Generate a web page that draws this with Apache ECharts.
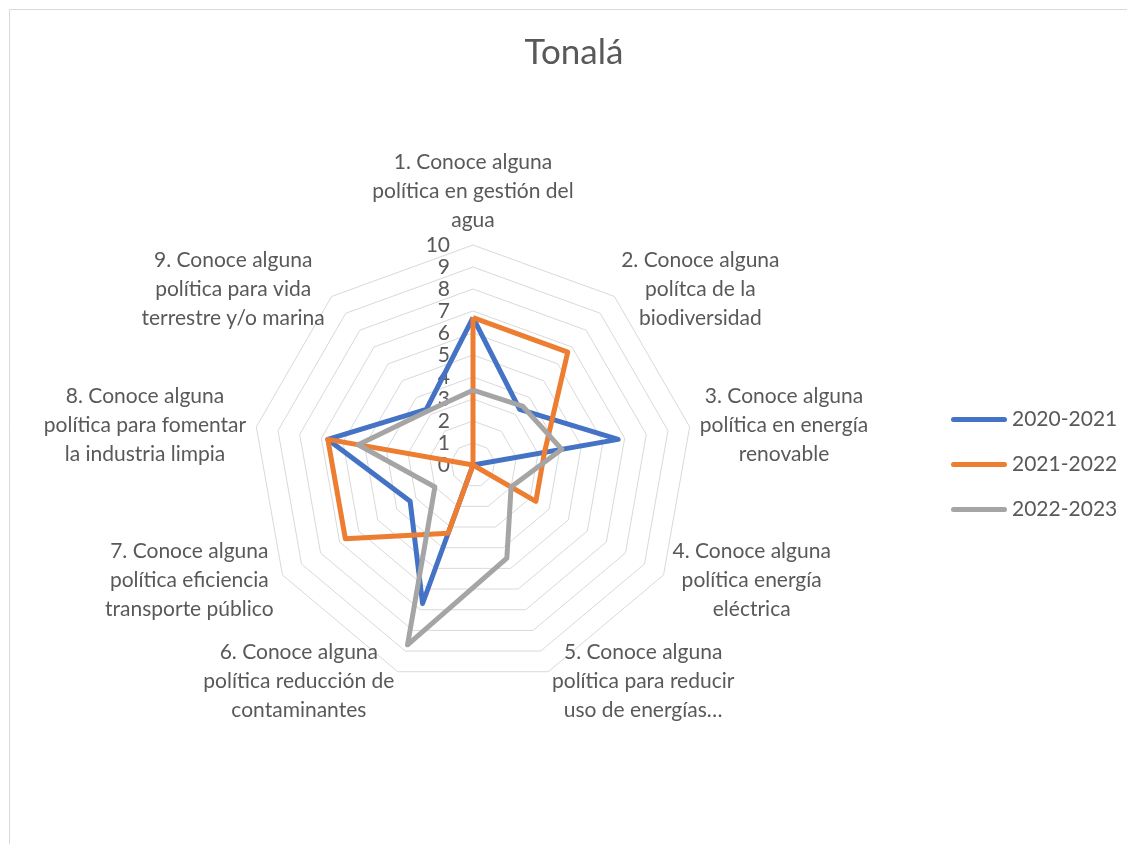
<!DOCTYPE html>
<html>
<head>
<meta charset="utf-8">
<title>Tonalá</title>
<script src="https://cdn.jsdelivr.net/npm/echarts@6/dist/echarts.min.js"></script>
<style>
  html, body { margin: 0; padding: 0; background: #fff; }
  #chart { width: 1127px; height: 844px; }
</style>
</head>
<body>
<div id="chart"></div>
<script>
// nombres de los ejes (en el orden de Excel, sentido horario)
var axis_names = [
	'1. Conoce alguna\npolítica en gestión del\nagua',
	'2. Conoce alguna\npolítca de la\nbiodiversidad',
	'3. Conoce alguna\npolítica en energía\nrenovable',
	'4. Conoce alguna\npolítica energía\neléctrica',
	'5. Conoce alguna\npolítica para reducir\nuso de energías…',
	'6. Conoce alguna\npolítica reducción de\ncontaminantes',
	'7. Conoce alguna\npolítica eficiencia\ntransporte público',
	'8. Conoce alguna\npolítica para fomentar\nla industria limpia',
	'9. Conoce alguna\npolítica para vida\nterrestre y/o marina'
];
var series_names = ['2020-2021', '2021-2022', '2022-2023'];
var values_2020 = [6.7, 3.3, 6.7, 0, 0, 6.7, 3.3, 6.7, 3.3];
var values_2021 = [6.7, 6.7, 3.3, 3.3, 0, 3.3, 6.7, 6.7, 0];
var values_2022 = [3.4, 3.5, 4.1, 2.0, 4.5, 8.7, 2.0, 5.3, 3.2];
var axis_max = 10;

var colors = ['#4472C4', '#ED7D31', '#A5A5A5'];
var font = 'Lato, "Open Sans", sans-serif';
var text_color = '#595959';
var label_size = 21;

// echarts pone los indicadores en sentido antihorario, se invierte el orden
var order = [0];
for (var i = axis_names.length - 1; i > 0; i--) order.push(i);
function reorder(arr) {
	return order.map(function (k) { return arr[k]; });
}

// medir cada etiqueta para centrar sus lineas
var ctx = document.createElement('canvas').getContext('2d');
ctx.font = label_size + 'px ' + font;
var rich = {};
axis_names.forEach(function (name, idx) {
	var w = 0;
	name.split('\n').forEach(function (line) {
		w = Math.max(w, ctx.measureText(line).width);
	});
	rich['n' + idx] = {
		width: Math.ceil(w),
		align: 'center',
		fontSize: label_size,
		lineHeight: 29,
		fontFamily: font,
		color: text_color
	};
});

var indicator = reorder(axis_names).map(function (name, k) {
	var ind = { name: name, min: 0, max: axis_max };
	if (k === 0) {
		ind.axisLabel = {
			show: true,
			fontSize: label_size,
			color: text_color,
			fontFamily: font,
			margin: 23
		};
	}
	return ind;
});

var all_values = [values_2020, values_2021, values_2022];
var radar_data = series_names.map(function (name, i) {
	return {
		name: name,
		value: reorder(all_values[i]),
		lineStyle: { color: colors[i], width: 5 },
		itemStyle: { color: colors[i] }
	};
});

var myChart = echarts.init(document.getElementById('chart'));
myChart.setOption({
	backgroundColor: '#fff',
	animation: false,
	title: {
		text: 'Tonalá',
		left: 569,
		top: 30,
		textAlign: 'center',
		textStyle: { fontSize: 35, fontWeight: 'normal', color: text_color, fontFamily: font }
	},
	legend: {
		orient: 'vertical',
		left: 946,
		top: 404,
		itemWidth: 56,
		itemHeight: 5,
		itemGap: 24,
		icon: 'path://M2.5,0 L53.5,0 A2.5,2.5 0 0 1 53.5,5 L2.5,5 A2.5,2.5 0 0 1 2.5,0 Z',
		textStyle: { fontSize: label_size, color: text_color, fontFamily: font },
		data: series_names
	},
	radar: {
		center: [473, 465],
		radius: 220,
		shape: 'polygon',
		splitNumber: 10,
		nameGap: 10,
		indicator: indicator,
		axisName: {
			fontSize: label_size,
			color: text_color,
			fontFamily: font,
			lineHeight: 29,
			rich: rich,
			formatter: function (name) {
				var idx = axis_names.indexOf(name);
				return name.split('\n').map(function (line) {
					return '{n' + idx + '|' + line + '}';
				}).join('\n');
			}
		},
		axisLine: { show: false },
		axisTick: { show: false },
		axisLabel: { show: false },
		splitLine: { lineStyle: { color: '#d9d9d9', width: 1 } },
		splitArea: { show: false }
	},
	graphic: [{
		type: 'rect',
		shape: { x: 9.5, y: 9.5, width: 1300, height: 1000 },
		style: { fill: null, stroke: '#d9d9d9', lineWidth: 1 },
		silent: true,
		z: -1
	}],
	series: [{
		type: 'radar',
		symbol: 'none',
		data: radar_data
	}]
});
</script>
</body>
</html>
